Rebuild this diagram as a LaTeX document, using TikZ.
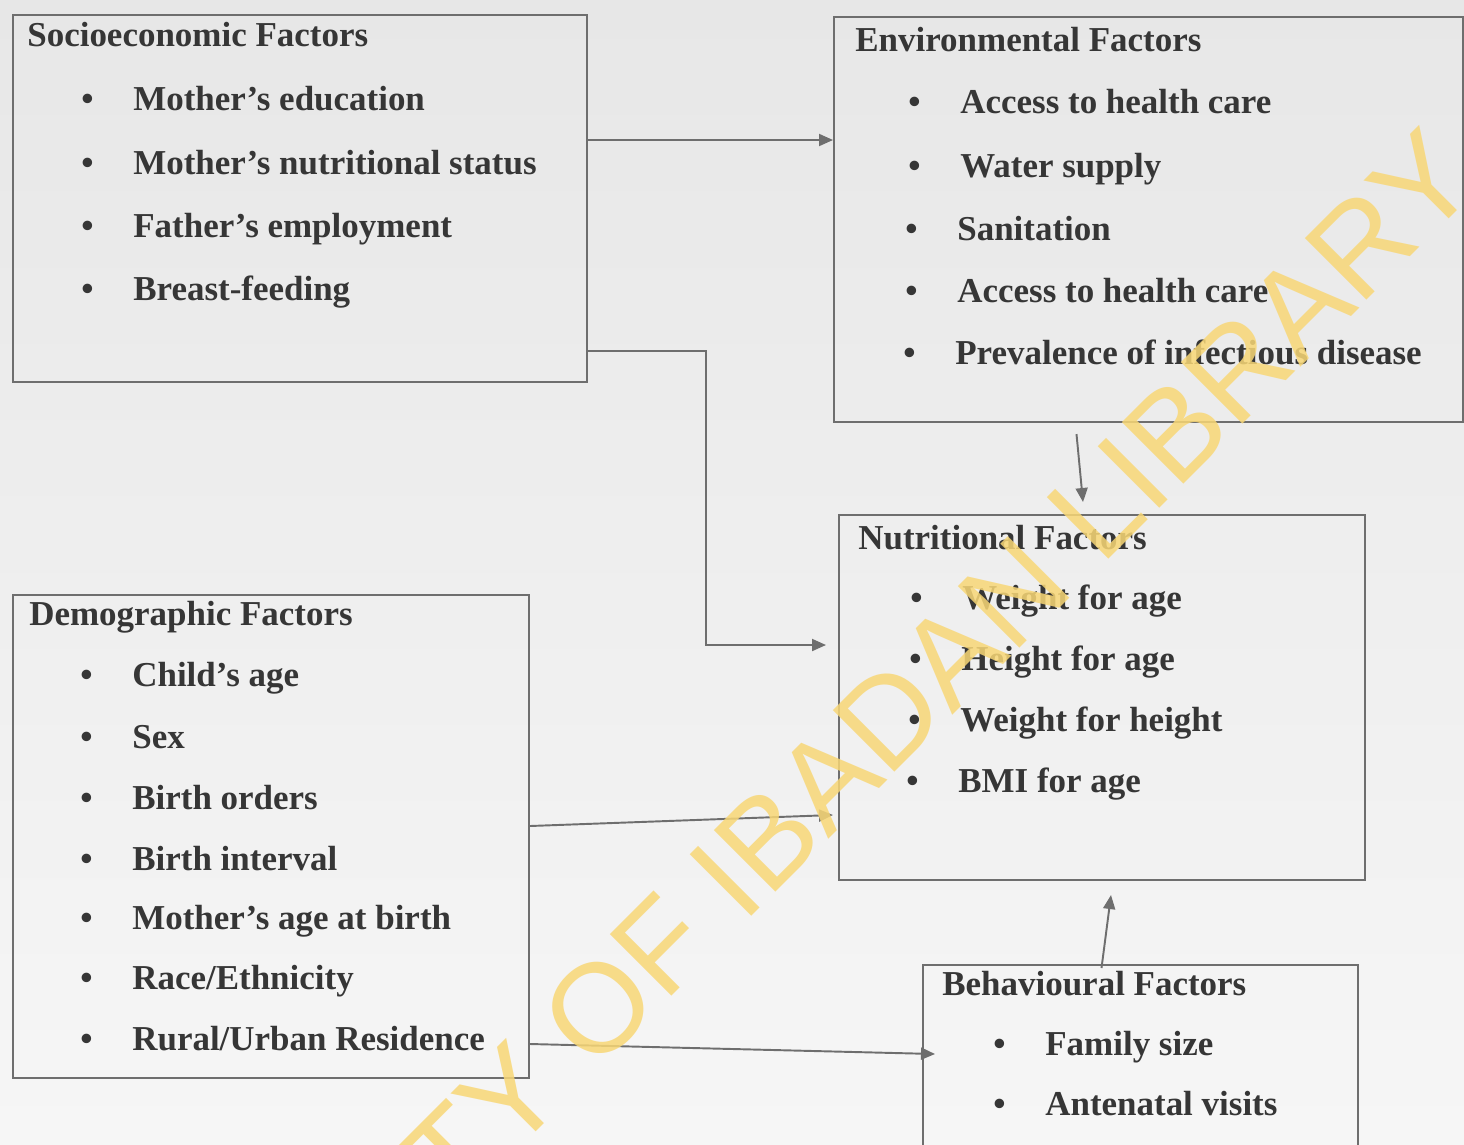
\documentclass[tikz,border=0pt]{standalone}
\usepackage{fontspec}
\setmainfont{Liberation Serif}
\newfontfamily\wmfont{Liberation Sans}
\usetikzlibrary{arrows.meta,calc}

\definecolor{ink}{HTML}{363636}
\definecolor{edge}{HTML}{6E6E6E}
\definecolor{wmyellow}{HTML}{F8D776}
\definecolor{paperA}{HTML}{E7E7E7}
\definecolor{paperB}{HTML}{F6F6F6}

\begin{document}
\begin{tikzpicture}[
    x=0.02cm, y=-0.02cm,
    box/.style={draw=edge, line width=1.2pt, anchor=north west, inner sep=0pt},
    head/.style={anchor=base west, inner sep=0pt, text=ink,
                 font=\fontsize{19.9}{24}\selectfont\bfseries},
    item/.style={head, execute at begin node={\makebox[1.04cm][l]{\textbullet}}},
    arr/.style={draw=edge, line width=1.1pt, -{Triangle[length=0.28cm,width=0.24cm]}},
    wmark/.style={text=wmyellow, opacity=0.85, inner sep=0pt,
                  font=\wmfont\fontsize{72}{84}\selectfont}
  ]
  % Paper
  \useasboundingbox (0,0) rectangle (1464,1144);
  \clip (0,0) rectangle (1464,1144);
  \fill[top color=paperA, bottom color=paperB] (0,0) rectangle (1464,1144);

  % Boxes
  \node[box, minimum width=11.48cm, minimum height=7.34cm] (socio) at (12,14)  {};
  \node[box, minimum width=12.58cm, minimum height=8.1cm]  (env)   at (833,16) {};
  \node[box, minimum width=10.52cm, minimum height=7.3cm]  (nutri) at (838,514) {};
  \node[box, minimum width=10.32cm, minimum height=9.66cm] (demo)  at (12,594) {};
  \node[box, minimum width=8.7cm,   minimum height=4cm]    (behav) at (922,964) {};

  % Socioeconomic
  \node[head] (st) at (27,46)  {Socioeconomic Factors};
  \node[item] (s1) at (81,110) {Mother’s education};
  \node[item] (s2) at (81,174) {Mother’s nutritional status};
  \node[item] (s3) at (81,237) {Father’s employment};
  \node[item] (s4) at (81,300) {Breast-feeding};

  % Environmental
  \node[head] (et) at (855,51)  {Environmental Factors};
  \node[item] (e1) at (908,113) {Access to health care};
  \node[item] (e2) at (908,177) {Water supply};
  \node[item] (e3) at (905,240) {Sanitation};
  \node[item] (e4) at (905,302) {Access to health care};
  \node[item] (e5) at (903,364) {Prevalence of infectious disease};

  % Nutritional
  \node[head] (nt) at (858,549) {Nutritional Factors};
  \node[item] (n1) at (910,609) {Weight for age};
  \node[item] (n2) at (909,670) {Height for age};
  \node[item] (n3) at (908,731) {Weight for height};
  \node[item] (n4) at (906,792) {BMI for age};

  % Demographic
  \node[head] (dt) at (29,625)  {Demographic Factors};
  \node[item] (d1) at (80,686)  {Child’s age};
  \node[item] (d2) at (80,748)  {Sex};
  \node[item] (d3) at (80,809)  {Birth orders};
  \node[item] (d4) at (80,870)  {Birth interval};
  \node[item] (d5) at (80,929)  {Mother’s age at birth};
  \node[item] (d6) at (80,989)  {Race/Ethnicity};
  \node[item] (d7) at (80,1050) {Rural/Urban Residence};

  % Behavioural
  \node[head] (bt) at (942,995)  {Behavioural Factors};
  \node[item] (b1) at (993,1055) {Family size};
  \node[item] (b2) at (993,1115) {Antenatal visits};

  % Links
  \draw[arr] (socio.east |- 0,140) -- (env.west |- 0,140);
  \draw[arr] (socio.east |- 0,351) -- (706,351) -- (706,645)
             -- ($(nutri.west |- 0,645)+(-12,0)$);
  \draw[arr] ($(env.south)+(-72,11)$) -- ($(nutri.north)+(-19,-12)$);
  \draw[arr] (demo.east |- 0,826) -- ($(nutri.west |- 0,815)+(-5,0)$);
  \draw[arr] (demo.east |- 0,1044) -- ($(behav.west |- 0,1054)+(13,0)$);
  \draw[arr] ($(behav.north)+(-39,4)$) -- ($(nutri.south)+(9,14)$);

  % Watermark
  \node[wmark, rotate=45] (wm) at (727,879) {UNIVERSITY OF IBADAN LIBRARY};
\end{tikzpicture}
\end{document}
